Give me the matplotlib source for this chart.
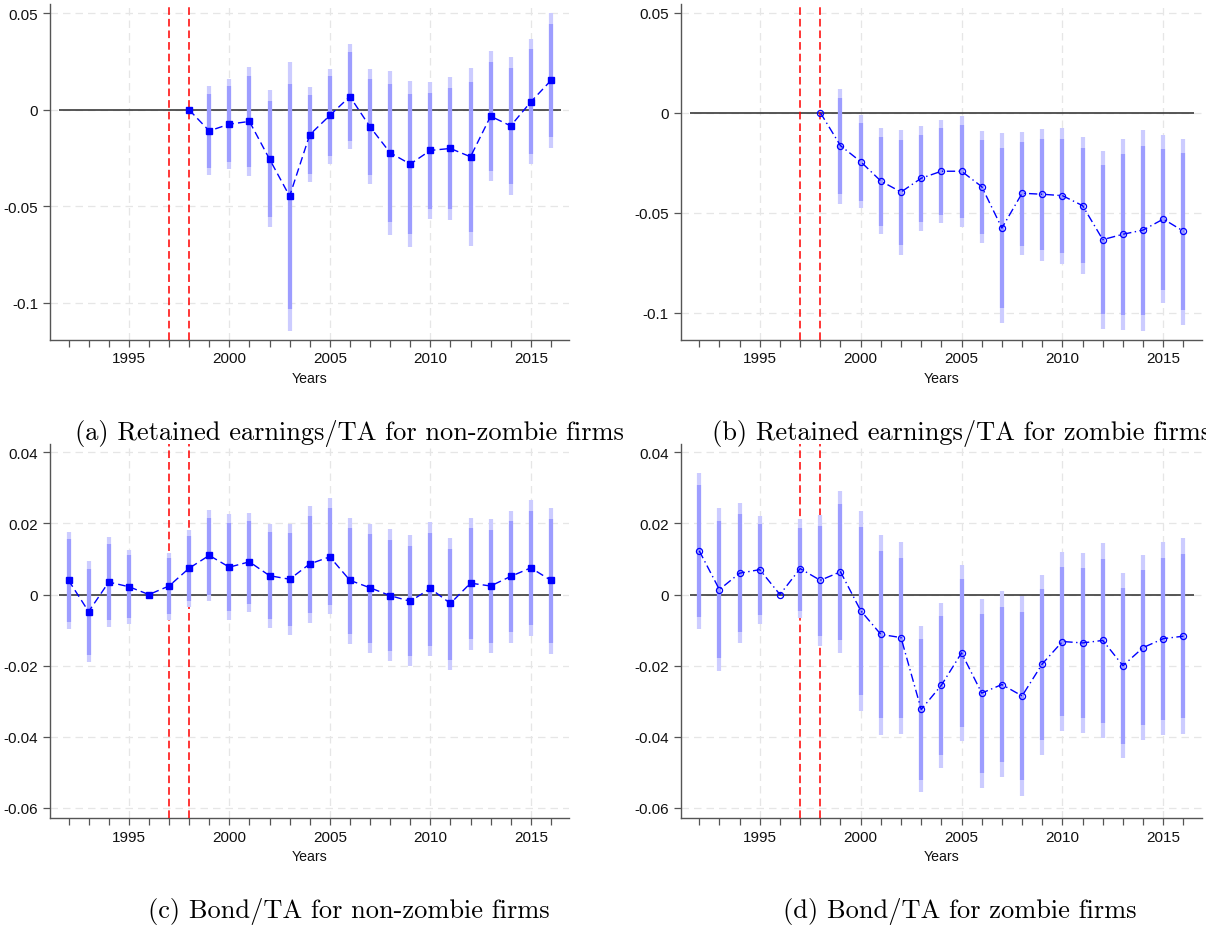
import numpy as np
import matplotlib
matplotlib.use("Agg")
import matplotlib.pyplot as plt
from matplotlib.ticker import FixedLocator, NullFormatter

# ---------------- data ----------------
years_full = list(range(1992, 2017))
years_post = list(range(1998, 2017))

# (a) Retained earnings/TA, non-zombie (1998 reference year)
a_coef = [0.0, -0.0109, -0.0074, -0.0060, -0.0255, -0.0447, -0.0129, -0.0029, 0.0069, -0.0088,
          -0.0222, -0.0281, -0.0210, -0.0200, -0.0243, -0.0033, -0.0083, 0.0041, 0.0152]
a_hi95 = [np.nan, 0.0121, 0.0162, 0.0221, 0.0102, 0.0248, 0.0116, 0.0214, 0.0343, 0.0209,
          0.0200, 0.0148, 0.0145, 0.0171, 0.0219, 0.0303, 0.0274, 0.0366, 0.0502]
a_lo95 = [np.nan, -0.0338, -0.0305, -0.0343, -0.0609, -0.1143, -0.0374, -0.0278, -0.0205, -0.0383,
          -0.0647, -0.0710, -0.0567, -0.0571, -0.0705, -0.0371, -0.0440, -0.0281, -0.0198]
a_hi90 = [np.nan, 0.0083, 0.0124, 0.0176, 0.0045, 0.0136, 0.0076, 0.0176, 0.0300, 0.0162,
          0.0133, 0.0081, 0.0088, 0.0112, 0.0143, 0.0250, 0.0217, 0.0314, 0.0447]
a_lo90 = [np.nan, -0.0302, -0.0269, -0.0298, -0.0553, -0.1031, -0.0334, -0.0238, -0.0160, -0.0336,
          -0.0579, -0.0643, -0.0512, -0.0514, -0.0633, -0.0319, -0.0384, -0.0229, -0.0140]

# (b) Retained earnings/TA, zombie
b_coef = [0.0, -0.0165, -0.0245, -0.0342, -0.0397, -0.0328, -0.0293, -0.0293, -0.0370, -0.0577,
          -0.0403, -0.0408, -0.0415, -0.0465, -0.0635, -0.0608, -0.0587, -0.0532, -0.0593]
b_hi95 = [np.nan, 0.0120, -0.0013, -0.0078, -0.0087, -0.0067, -0.0037, -0.0017, -0.0092, -0.0102,
          -0.0097, -0.0082, -0.0077, -0.0123, -0.0192, -0.0132, -0.0087, -0.0112, -0.0130]
b_lo95 = [np.nan, -0.0455, -0.0478, -0.0607, -0.0710, -0.0590, -0.0553, -0.0570, -0.0650, -0.1052,
          -0.0713, -0.0740, -0.0757, -0.0807, -0.1080, -0.1087, -0.1090, -0.0953, -0.1060]
b_hi90 = [np.nan, 0.0073, -0.0052, -0.0122, -0.0137, -0.0112, -0.0077, -0.0062, -0.0137, -0.0177,
          -0.0145, -0.0133, -0.0132, -0.0177, -0.0263, -0.0207, -0.0165, -0.0180, -0.0203]
b_lo90 = [np.nan, -0.0407, -0.0442, -0.0565, -0.0660, -0.0545, -0.0510, -0.0525, -0.0607, -0.0977,
          -0.0667, -0.0687, -0.0702, -0.0752, -0.1008, -0.1012, -0.1012, -0.0887, -0.0987]

# (c) Bond/TA, non-zombie (1996 reference year)
c_coef = [0.0040, -0.0048, 0.0035, 0.0022, 0.0, 0.0024, 0.0074, 0.0110, 0.0077, 0.0092, 0.0053,
          0.0043, 0.0086, 0.0106, 0.0040, 0.0019, -0.0003, -0.0019, 0.0017, -0.0025, 0.0032,
          0.0024, 0.0051, 0.0075, 0.0040]
c_hi95 = [0.0176, 0.0094, 0.0161, 0.0125, np.nan, 0.0118, 0.0182, 0.0237, 0.0226, 0.0230, 0.0197,
          0.0197, 0.0250, 0.0270, 0.0216, 0.0198, 0.0183, 0.0166, 0.0204, 0.0159, 0.0216,
          0.0211, 0.0235, 0.0265, 0.0244]
c_lo95 = [-0.0098, -0.0191, -0.0092, -0.0084, np.nan, -0.0071, -0.0034, -0.0019, -0.0072, -0.0050, -0.0093,
          -0.0114, -0.0080, -0.0055, -0.0138, -0.0163, -0.0188, -0.0201, -0.0173, -0.0212, -0.0156,
          -0.0165, -0.0135, -0.0116, -0.0166]
c_hi90 = [0.0155, 0.0071, 0.0141, 0.0110, np.nan, 0.0103, 0.0164, 0.0216, 0.0201, 0.0207, 0.0175,
          0.0172, 0.0222, 0.0244, 0.0188, 0.0169, 0.0154, 0.0136, 0.0173, 0.0129, 0.0188,
          0.0182, 0.0206, 0.0235, 0.0212]
c_lo90 = [-0.0076, -0.0169, -0.0072, -0.0065, np.nan, -0.0055, -0.0017, -0.0002, -0.0047, -0.0026, -0.0069,
          -0.0089, -0.0052, -0.0029, -0.0110, -0.0135, -0.0158, -0.0172, -0.0144, -0.0183, -0.0126,
          -0.0136, -0.0105, -0.0085, -0.0135]

# (d) Bond/TA, zombie
d_coef = [0.0123, 0.0014, 0.0060, 0.0070, 0.0, 0.0073, 0.0040, 0.0064, -0.0045, -0.0112, -0.0121,
          -0.0323, -0.0255, -0.0164, -0.0277, -0.0253, -0.0285, -0.0195, -0.0132, -0.0136, -0.0129,
          -0.0200, -0.0149, -0.0124, -0.0117]
d_hi95 = [0.0341, 0.0244, 0.0257, 0.0222, np.nan, 0.0212, 0.0224, 0.0291, 0.0236, 0.0168, 0.0147,
          -0.0088, -0.0023, 0.0084, -0.0013, 0.0009, -0.0005, 0.0056, 0.0119, 0.0117, 0.0146,
          0.0060, 0.0111, 0.0147, 0.0158]
d_lo95 = [-0.0096, -0.0216, -0.0137, -0.0084, np.nan, -0.0066, -0.0145, -0.0165, -0.0327, -0.0394, -0.0392,
          -0.0556, -0.0488, -0.0412, -0.0544, -0.0514, -0.0567, -0.0450, -0.0384, -0.0388, -0.0404,
          -0.0459, -0.0408, -0.0395, -0.0392]
d_hi90 = [0.0307, 0.0207, 0.0226, 0.0198, np.nan, 0.0188, 0.0193, 0.0255, 0.0191, 0.0123, 0.0104,
          -0.0125, -0.0061, 0.0044, -0.0054, -0.0034, -0.0049, 0.0016, 0.0078, 0.0076, 0.0101,
          0.0017, 0.0070, 0.0104, 0.0113]
d_lo90 = [-0.0063, -0.0179, -0.0106, -0.0058, np.nan, -0.0045, -0.0116, -0.0129, -0.0282, -0.0348, -0.0347,
          -0.0520, -0.0451, -0.0373, -0.0501, -0.0472, -0.0522, -0.0408, -0.0342, -0.0348, -0.0360,
          -0.0420, -0.0368, -0.0352, -0.0346]

ret_ticks = [0.05, 0.0, -0.05, -0.1]
ret_ticklabels = ["0.05", "0", "-0.05", "-0.1"]
bond_ticks = [0.04, 0.02, 0.0, -0.02, -0.04, -0.06]
bond_ticklabels = ["0.04", "0.02", "0", "-0.02", "-0.04", "-0.06"]
x_major = [1995, 2000, 2005, 2010, 2015]
event_years = [1997, 1998]

captions = ["(a) Retained earnings/TA for non-zombie firms",
            "(b) Retained earnings/TA for zombie firms",
            "(c) Bond/TA for non-zombie firms",
            "(d) Bond/TA for zombie firms"]

# ---------------- style ----------------
OUTER = "#ccccff"
INNER = "#9d9dff"
BLUE = "#0000ff"
TICKFONT = ["Liberation Sans", "DejaVu Sans"]

fig = plt.figure(figsize=(12.06, 9.28), dpi=100)

panels = [
    dict(pos=[0.0415, 0.6329, 0.4303, 0.3617], x=years_post, coef=a_coef, hi95=a_hi95, lo95=a_lo95,
         hi90=a_hi90, lo90=a_lo90, ylim=(-0.119, 0.0548), ticks=ret_ticks, tl=ret_ticklabels, style="sq"),
    dict(pos=[0.5644, 0.6329, 0.4320, 0.3617], x=years_post, coef=b_coef, hi95=b_hi95, lo95=b_lo95,
         hi90=b_hi90, lo90=b_lo90, ylim=(-0.1135, 0.0543), ticks=ret_ticks, tl=ret_ticklabels, style="ci"),
    dict(pos=[0.0415, 0.1175, 0.4303, 0.4033], x=years_full, coef=c_coef, hi95=c_hi95, lo95=c_lo95,
         hi90=c_hi90, lo90=c_lo90, ylim=(-0.0628, 0.0424), ticks=bond_ticks, tl=bond_ticklabels, style="sq"),
    dict(pos=[0.5644, 0.1175, 0.4320, 0.4033], x=years_full, coef=d_coef, hi95=d_hi95, lo95=d_lo95,
         hi90=d_hi90, lo90=d_lo90, ylim=(-0.0628, 0.0424), ticks=bond_ticks, tl=bond_ticklabels, style="ci"),
]

for p in panels:
    ax = fig.add_axes(p["pos"])
    ax.set_xlim(1991.08, 2016.9)
    ax.set_ylim(*p["ylim"])
    x = np.array(p["x"], dtype=float)

    # grid
    for t in p["ticks"]:
        ax.axhline(t, color="#e6e6e6", lw=0.9, dashes=(6, 4), zorder=0)
    for t in x_major:
        ax.axvline(t, color="#e6e6e6", lw=0.9, dashes=(6, 4), zorder=0)

    # zero line
    ax.hlines(0, 1991.55, 2016.5, color="#3a3a3a", lw=1.2, zorder=2)

    # event lines
    for e in event_years:
        ax.axvline(e, color="#ff0000", lw=1.1, dashes=(5, 2.6), zorder=3)

    # confidence intervals
    ax.vlines(x, p["lo95"], p["hi95"], color=OUTER, lw=3.0, zorder=4)
    ax.vlines(x, p["lo90"], p["hi90"], color=INNER, lw=3.0, zorder=5)

    if p["style"] == "sq":
        ax.plot(x, p["coef"], color=BLUE, lw=1.0, dashes=(5.5, 3.0), marker="s",
                markersize=4.2, markerfacecolor=BLUE, markeredgecolor=BLUE, zorder=6)
    else:
        ax.plot(x, p["coef"], color=BLUE, lw=1.0, dashes=(6, 2.5, 1, 2.5), marker="o",
                markersize=4.4, markerfacecolor="none", markeredgecolor=BLUE,
                markeredgewidth=0.9, zorder=6)

    # axes styling
    for s in ["top", "right"]:
        ax.spines[s].set_visible(False)
    for s in ["left", "bottom"]:
        ax.spines[s].set_color("#555555")
        ax.spines[s].set_linewidth(1.0)

    ax.xaxis.set_major_locator(FixedLocator(x_major))
    ax.xaxis.set_minor_locator(FixedLocator(years_full))
    ax.xaxis.set_minor_formatter(NullFormatter())
    ax.set_xticklabels([str(v) for v in x_major])
    ax.set_yticks(p["ticks"])
    ax.set_yticklabels(p["tl"])
    ax.tick_params(axis="both", which="both", direction="out", length=5, width=0.9,
                   color="#555555", labelsize=11, labelcolor="#111111", pad=3.5)
    for lab in ax.get_xticklabels() + ax.get_yticklabels():
        lab.set_family(TICKFONT)
    ax.set_xlabel("Years", fontsize=10.2, family=TICKFONT, labelpad=4, color="#111111")

# captions
cap_pos = [(0.2895, 0.5334), (0.7970, 0.5334), (0.2890, 0.0183), (0.7957, 0.0183)]
for (cx, cy), cap in zip(cap_pos, captions):
    fig.text(cx, cy, cap, ha="center", va="center", fontsize=19.0,
             family=["cmr10", "DejaVu Serif"])

fig.savefig("out.png", dpi=100)
